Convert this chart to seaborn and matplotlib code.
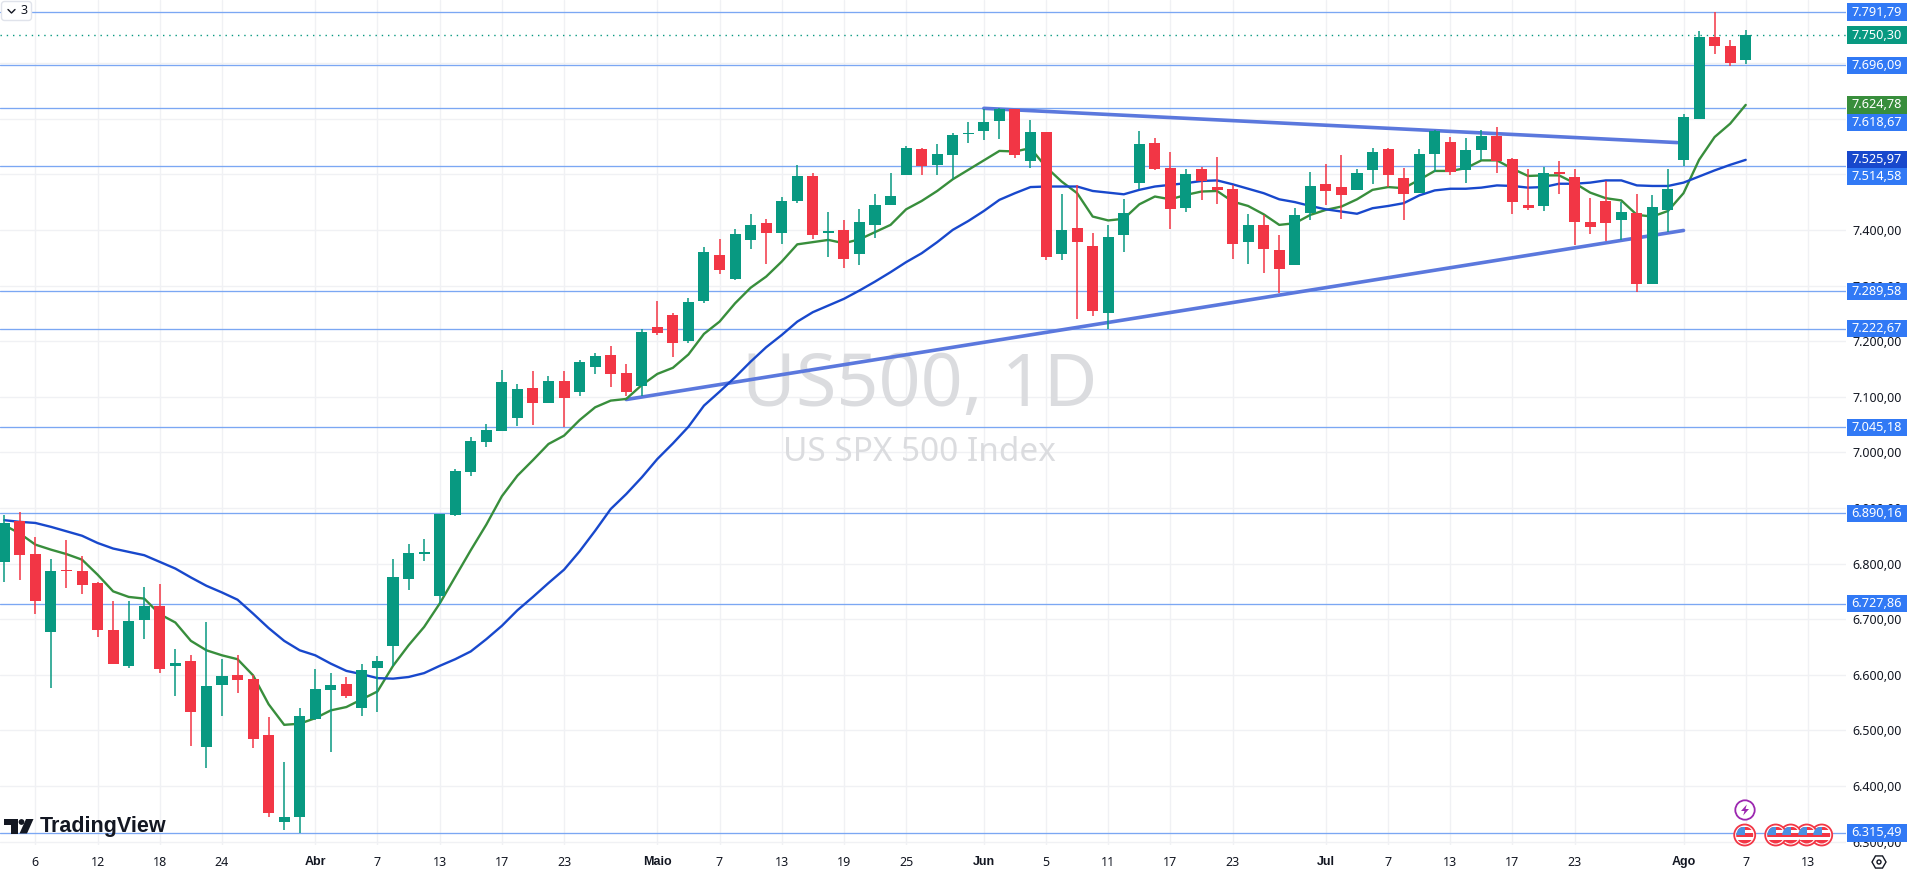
import numpy as np
import pandas as pd
import seaborn as sns
from matplotlib import pyplot as plt
from matplotlib.patches import Circle, Polygon, Rectangle, RegularPolygon, FancyBboxPatch

# daily candles, oldest first
opens = [6803, 6876, 6818, 6677, 6788, 6786, 6765, 6680, 6616, 6699,
         6723, 6616, 6625, 6471, 6582, 6599, 6592, 6492, 6336, 6345,
         6521, 6573, 6583, 6541, 6613, 6652, 6773, 6818, 6742, 6888,
         6965, 7019, 7039, 7061, 7116, 7088, 7128, 7108, 7154, 7175,
         7143, 7120, 7226, 7247, 7201, 7272, 7355, 7311, 7381, 7412,
         7395, 7452, 7497, 7395, 7400, 7356, 7408, 7444, 7499, 7546,
         7517, 7535, 7572, 7578, 7595, 7617, 7523, 7576, 7356, 7403,
         7371, 7251, 7391, 7485, 7556, 7512, 7440, 7510, 7477, 7474,
         7379, 7409, 7364, 7336, 7430, 7483, 7477, 7471, 7507, 7545,
         7494, 7467, 7537, 7558, 7507, 7544, 7569, 7527, 7444, 7443,
         7504, 7495, 7414, 7452, 7418, 7431, 7302, 7436, 7526, 7600,
         7746, 7730, 7705]
highs = [6887, 6892, 6847, 6809, 6843, 6813, 6767, 6732, 6732, 6758,
         6763, 6646, 6635, 6695, 6628, 6635, 6599, 6524, 6443, 6540,
         6610, 6603, 6596, 6619, 6634, 6808, 6835, 6844, 6890, 6970,
         7028, 7051, 7148, 7123, 7146, 7137, 7146, 7166, 7179, 7191,
         7159, 7221, 7272, 7251, 7278, 7369, 7384, 7402, 7429, 7420,
         7459, 7517, 7502, 7432, 7418, 7438, 7465, 7502, 7551, 7547,
         7555, 7574, 7594, 7617, 7619, 7618, 7598, 7576, 7465, 7481,
         7395, 7409, 7456, 7578, 7565, 7540, 7510, 7513, 7531, 7481,
         7429, 7427, 7391, 7439, 7504, 7519, 7535, 7510, 7547, 7547,
         7511, 7545, 7580, 7567, 7565, 7580, 7585, 7529, 7510, 7513,
         7524, 7510, 7457, 7488, 7450, 7465, 7463, 7510, 7608, 7758,
         7791.79, 7742, 7760]
lows = [6767, 6771, 6710, 6577, 6756, 6746, 6668, 6620, 6613, 6665,
        6604, 6562, 6472, 6433, 6525, 6568, 6469, 6345, 6321, 6315,
        6519, 6462, 6559, 6526, 6533, 6616, 6753, 6805, 6727, 6885,
        6957, 7009, 7039, 7048, 7050, 7088, 7046, 7102, 7140, 7117,
        7102, 7102, 7211, 7172, 7197, 7269, 7320, 7310, 7366, 7339,
        7375, 7449, 7384, 7352, 7332, 7336, 7386, 7444, 7499, 7499,
        7499, 7492, 7557, 7562, 7564, 7530, 7512, 7345, 7345, 7239,
        7246, 7222, 7361, 7474, 7508, 7401, 7433, 7454, 7447, 7348,
        7338, 7323, 7287, 7336, 7418, 7445, 7420, 7471, 7483, 7477,
        7418, 7467, 7505, 7499, 7484, 7525, 7502, 7429, 7436, 7434,
        7465, 7373, 7393, 7380, 7382, 7289, 7302, 7396, 7515, 7600,
        7717, 7695, 7699]
closes = [6873, 6816, 6733, 6786, 6787, 6762, 6681, 6620, 6696, 6723,
          6611, 6621, 6533, 6580, 6598, 6591, 6485, 6352, 6344, 6526,
          6574, 6581, 6562, 6608, 6625, 6776, 6819, 6821, 6889, 6967,
          7021, 7040, 7127, 7114, 7088, 7128, 7097, 7163, 7173, 7140,
          7109, 7217, 7214, 7196, 7271, 7360, 7327, 7393, 7409, 7395,
          7452, 7497, 7390, 7398, 7348, 7414, 7445, 7461, 7547, 7514,
          7537, 7571, 7573, 7594, 7618, 7534, 7576, 7352, 7400, 7379,
          7255, 7387, 7430, 7554, 7510, 7437, 7500, 7488, 7472, 7375,
          7409, 7366, 7330, 7427, 7479, 7470, 7463, 7502, 7540, 7498,
          7465, 7537, 7578, 7505, 7544, 7569, 7523, 7451, 7440, 7502,
          7501, 7415, 7405, 7412, 7432, 7302, 7441, 7474, 7603, 7747,
          7730, 7701, 7750.30]

# moving averages
ema_fast = [6869, 6854, 6834, 6825, 6817, 6807, 6780, 6750, 6740, 6737,
            6709, 6694, 6661, 6644, 6635, 6628, 6599, 6547, 6510, 6512,
            6522, 6536, 6542, 6556, 6570, 6616, 6653, 6686, 6728, 6776,
            6824, 6870, 6921, 6958, 6986, 7015, 7030, 7058, 7081, 7093,
            7096, 7121, 7141, 7152, 7176, 7213, 7235, 7268, 7296, 7316,
            7343, 7374, 7378, 7382, 7376, 7383, 7396, 7409, 7437, 7452,
            7470, 7491, 7508, 7525, 7542, 7541, 7547, 7513, 7487, 7466,
            7424, 7417, 7420, 7446, 7460, 7455, 7463, 7469, 7470, 7451,
            7443, 7428, 7409, 7412, 7427, 7436, 7442, 7455, 7472, 7477,
            7475, 7490, 7506, 7506, 7511, 7525, 7525, 7510, 7497, 7498,
            7498, 7484, 7467, 7457, 7453, 7427, 7424, 7434, 7466, 7526,
            7567, 7591, 7624.78]
ema_slow = [6878, 6875, 6873, 6866, 6858, 6850, 6837, 6827, 6821, 6815,
            6803, 6791, 6775, 6760, 6748, 6735, 6710, 6684, 6661, 6644,
            6635, 6620, 6607, 6601, 6594, 6593, 6596, 6603, 6616, 6628,
            6642, 6664, 6688, 6716, 6740, 6765, 6789, 6822, 6859, 6898,
            6925, 6955, 6988, 7016, 7046, 7084, 7109, 7135, 7163, 7189,
            7211, 7235, 7252, 7264, 7276, 7291, 7307, 7324, 7342, 7358,
            7378, 7400, 7416, 7434, 7454, 7466, 7477, 7478, 7478, 7478,
            7470, 7467, 7464, 7472, 7478, 7481, 7484, 7488, 7489, 7482,
            7474, 7466, 7455, 7450, 7443, 7437, 7433, 7429, 7439, 7443,
            7448, 7462, 7471, 7474, 7474, 7476, 7480, 7479, 7476, 7477,
            7483, 7483, 7485, 7489, 7489, 7480, 7479, 7479, 7485, 7496,
            7507, 7517, 7525.97]

# levels and drawn trendlines
levels = [7791.79, 7696.09, 7618.67, 7514.58, 7289.58, 7222.67, 7045.18,
          6890.16, 6727.86, 6315.49]
last_close = 7750.30
upper_x = [63, 107.6]
upper_y = [7618.6, 7557]
lower_x = [40, 108]
lower_y = [7095, 7399]

# date axis
date_pos = [2, 6, 10, 14, 20, 24, 28, 32, 36, 42, 46, 50, 54, 58, 63, 67, 71,
            75, 79, 85, 89, 93, 97, 101, 108, 112, 116]
date_lbl = ["6", "12", "18", "24", "Abr", "7", "13", "17", "23", "Maio", "7",
            "13", "19", "25", "Jun", "5", "11", "17", "23", "Jul", "7", "13",
            "17", "23", "Ago", "7", "13"]
months = ["Abr", "Maio", "Jun", "Jul", "Ago"]
price_ticks = list(range(6300, 7800, 100))

# tags on the price scale: value, colour, shift of the tag from the value
tag_val = [7791.79, 7750.30, 7696.09, 7624.78, 7618.67, 7525.97, 7514.58,
           7289.58, 7222.67, 7045.18, 6890.16, 6727.86, 6315.49]
tag_shift = [0, 0, 0, 0, -25, 0, -18, 0, 0, 0, 0, 0, 0]

GREEN = "#089981"
RED = "#f23645"
BLUE = "#3179f5"
LINE = "#7ba7f3"
TEXT = "#131722"
GRID = "#f0f1f4"
WMARK = "#dbdcdf"
tag_col = [BLUE, GREEN, BLUE, "#388e3c", BLUE, "#1848cc"] + [BLUE] * 7

sns.set_theme(style="white")
plt.rcParams['font.family'] = ['Noto Sans', 'DejaVu Sans']


def fmt(v):
    return f"{v:,.2f}".replace(",", "#").replace(".", ",").replace("#", ".")


df = pd.DataFrame({"i": np.arange(len(opens)), "open": opens, "high": highs,
                   "low": lows, "close": closes, "fast": ema_fast, "slow": ema_slow})
df["up"] = df["close"] >= df["open"]
df["col"] = np.where(df["up"], GREEN, RED)

W, H = 1911, 875
fig = plt.figure(figsize=(W / 100, H / 100), dpi=100, facecolor="white")
ax = fig.add_axes([0, 30 / H, 1846 / W, 845 / H])
ax.set_xlim(-0.277, 118.45)
ax.set_ylim(6293.9, 7813.4)

ax.set_xticks(date_pos)
ax.set_xticklabels(date_lbl)
ax.set_yticks(price_ticks)
ax.set_yticklabels([fmt(v) for v in price_ticks])
ax.yaxis.tick_right()
ax.grid(True, color=GRID, lw=1.0, zorder=0)
ax.set_axisbelow(True)
ax.tick_params(axis="x", length=0, pad=8, labelsize=9, labelcolor=TEXT)
ax.tick_params(axis="y", length=0, pad=4.5, labelsize=9, labelcolor=TEXT)
for lab in ax.get_xticklabels():
    if lab.get_text() in months:
        lab.set_fontfamily("Liberation Sans")
        lab.set_fontweight("bold")
sns.despine(ax=ax, left=True, bottom=True, right=True, top=True)

# watermark
ax.text(0.4985, 0.5415, "US500, 1D", transform=ax.transAxes, ha="center",
        va="center", fontsize=53, color=WMARK, zorder=1)
ax.text(0.498, 0.465, "US SPX 500 Index", transform=ax.transAxes, ha="center",
        va="center", fontsize=24, color=WMARK, zorder=1)

# levels
for v in levels:
    ax.axhline(v, color=LINE, lw=0.95, zorder=2)
ax.axhline(last_close, color=GREEN, lw=1.0, ls=(0, (1, 3.5)), zorder=2)

# trendlines and averages
sns.lineplot(x=upper_x, y=upper_y, color="#5b78dd", lw=2.6, ax=ax, zorder=3)
sns.lineplot(x=lower_x, y=lower_y, color="#5b78dd", lw=2.6, ax=ax, zorder=3)
sns.lineplot(data=df, x="i", y="fast", color="#388e3c", lw=1.7, ax=ax, zorder=4)
sns.lineplot(data=df, x="i", y="slow", color="#1848cc", lw=1.7, ax=ax, zorder=4)
ax.set_xlabel("")
ax.set_ylabel("")

# candles
ax.vlines(df["i"], df["low"], df["high"], colors=df["col"], lw=1.1, zorder=5)
body_low = df[["open", "close"]].min(axis=1)
body_h = (df["close"] - df["open"]).abs().clip(lower=2)
ax.bar(df["i"], body_h, bottom=body_low, width=0.71, color=df["col"], lw=0, zorder=6)

# price tags
tr = ax.get_yaxis_transform()
for v, c, s in zip(tag_val, tag_col, tag_shift):
    ax.add_patch(Rectangle((1.0005, v + s - 15.5), 0.0325, 31, transform=tr,
                           facecolor=c, edgecolor="none", clip_on=False, zorder=8))
    ax.text(1.0166, v + s, fmt(v), transform=tr, ha="center", va="center",
            color="white", fontsize=9.2, fontweight="semibold", clip_on=False, zorder=9)

# overlay in pixel units for logo and icons
ov = fig.add_axes([0, 0, 1, 1], facecolor="none")
ov.set_xlim(0, W)
ov.set_ylim(H, 0)
ov.axis("off")

# logo
ov.add_patch(Polygon([(4, 819), (17.5, 819), (17.5, 833.5), (10.5, 833.5),
                      (10.5, 825), (4, 825)], color=TEXT, lw=0))
ov.add_patch(Circle((21.5, 822), 2.9, color=TEXT, lw=0))
ov.add_patch(Polygon([(26, 819), (33.5, 819), (27, 833.5), (19.5, 833.5)], color=TEXT, lw=0))
ov.text(40, 826.5, "TradingView", ha="left", va="center", fontsize=15.5,
        family="Liberation Sans", fontweight="bold", color=TEXT)

# series collapse button
ov.add_patch(FancyBboxPatch((3, 3), 27, 16, boxstyle="round,pad=1.5,rounding_size=3",
                            facecolor="white", edgecolor="#e0e3eb", lw=1))
ov.plot([8, 11.5, 15], [9.5, 13, 9.5], color=TEXT, lw=1)
ov.text(24.5, 11, "3", ha="center", va="center", fontsize=9, color=TEXT)


# event icons
def flag(x, y):
    r = 10.5
    ring = Circle((x, y), r, facecolor="white", edgecolor=RED, lw=1.3, zorder=10)
    ov.add_patch(ring)
    inner = Circle((x, y), r - 2, transform=ov.transData)
    for k, col in enumerate([RED, "white", RED, "white", RED]):
        st = Rectangle((x - r, y - 8.5 + k * 3.4), 2 * r, 3.4, facecolor=col, lw=0, zorder=11)
        ov.add_patch(st)
        st.set_clip_path(inner)
    can = Rectangle((x - r, y - 8.5), r, 8.5, facecolor="#4a90e2", lw=0, zorder=12)
    ov.add_patch(can)
    can.set_clip_path(inner)


for x in [1821.7, 1806.7, 1790.7, 1775.7, 1744.7]:
    flag(x, 835)

ov.add_patch(Circle((1745, 810), 9.7, facecolor="white", edgecolor="#9c27b0", lw=1.3, zorder=10))
ov.add_patch(Polygon([(1746.8, 804.5), (1741, 811), (1744.5, 811), (1743.2, 815.5),
                      (1749, 809), (1745.5, 809)], color="#9c27b0", lw=0, zorder=11))

# settings icon
ov.add_patch(RegularPolygon((1879, 862), 6, radius=7, orientation=np.pi / 2,
                            facecolor="white", edgecolor=TEXT, lw=1))
ov.add_patch(Circle((1879, 862), 2, facecolor="white", edgecolor=TEXT, lw=1))

fig.savefig("out.png", dpi=100)
